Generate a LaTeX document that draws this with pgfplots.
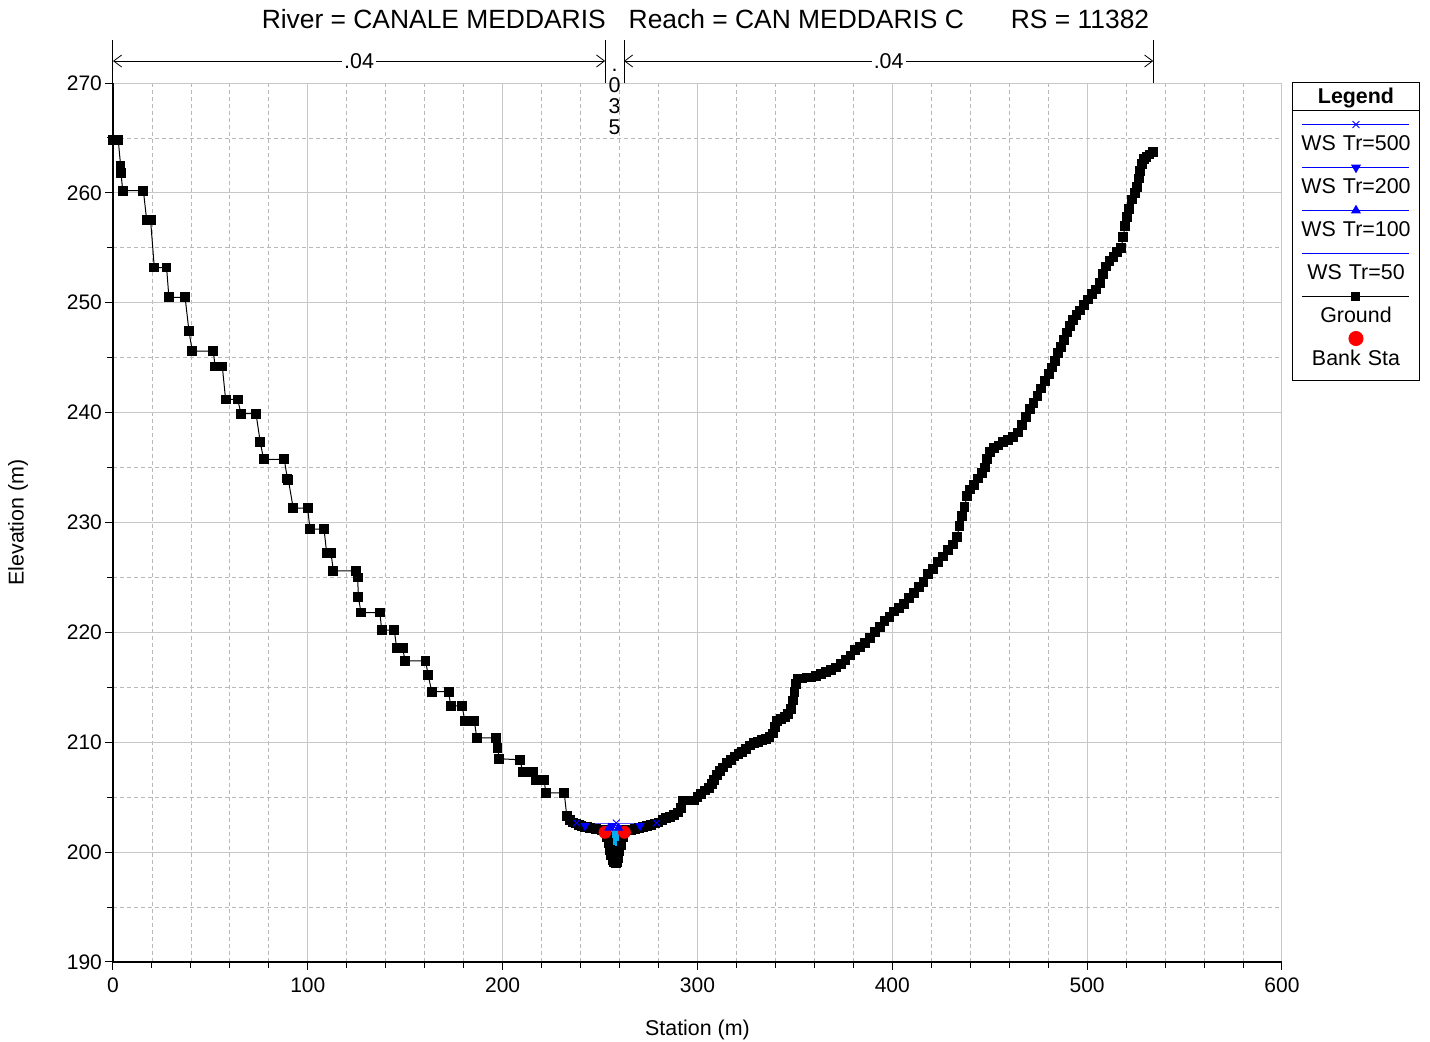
\documentclass[border=0pt]{standalone}
\usepackage{fontspec}
\setmainfont{Liberation Sans}
\usepackage{pgfplots}
\pgfplotsset{compat=1.18}
\usepackage{pgfplotstable}
\usetikzlibrary{arrows.meta}

% ground profile, station (m) / elevation (m)
\pgfplotstableread{
x y
0.2 264.8
2.7 264.8
3.9 262.5
4.1 261.8
5.0 260.2
15.6 260.2
17.3 257.5
19.3 257.5
21.2 253.2
27.5 253.2
28.7 250.5
37.0 250.5
39.0 247.4
40.7 245.6
51.5 245.6
52.4 244.2
56.1 244.2
57.8 241.2
64.0 241.2
65.7 239.9
73.4 239.9
75.6 237.3
77.3 235.75
87.9 235.75
89.5 234.0
90.0 233.9
92.5 231.3
99.9 231.3
101.1 229.4
108.3 229.4
109.7 227.2
111.9 227.2
113.1 225.6
124.7 225.6
125.6 225.0
125.9 223.25
127.3 221.8
137.0 221.8
137.9 220.2
144.4 220.2
145.6 218.55
148.7 218.55
149.9 217.4
160.4 217.4
161.8 216.1
163.6 214.6
172.3 214.6
173.3 213.3
179.1 213.3
180.7 211.9
185.5 211.9
186.7 210.4
196.6 210.4
197.3 209.5
198.3 208.5
208.9 208.4
210.3 207.3
215.4 207.3
217.1 206.6
221.2 206.6
222.2 205.4
231.6 205.4
232.9 203.3
234.5 202.9
236.0 202.7
237.5 202.6
239.0 202.5
240.5 202.4
242.0 202.3
243.5 202.25
245.0 202.2
246.5 202.15
248.0 202.1
249.5 202.05
251.0 202.0
252.5 201.9
253.5 201.4
254.3 200.8
255.0 200.2
255.7 199.7
256.4 199.3
257.2 199.1
258.0 199.0
258.8 199.1
259.4 199.5
260.0 200.1
261.0 200.6
262.0 201.4
262.8 201.9
264.0 202.0
266 202.0
268 202.1
270 202.2
272 202.3
274 202.4
276 202.5
278 202.6
280 202.7
282 202.9
284 203.1
286 203.2
288 203.4
290 203.6
291.5 204.0
292.3 204.7
294 204.7
296 204.7
298 204.7
300 205.0
302 205.3
304 205.6
306 205.8
307.5 206.2
308.5 206.6
310 207.0
311.5 207.4
313 207.7
315 208.1
317 208.4
319 208.7
321 208.9
323 209.1
325 209.4
327 209.7
329 209.9
331 210.0
333 210.2
335 210.3
337 210.5
338.7 210.8
339.8 211.4
341 211.9
343 212.1
345 212.3
346.5 212.6
348 213.0
349 213.8
349.8 214.6
350.5 215.3
351.5 215.8
353.5 215.8
356 215.9
358.5 215.9
361 216.0
363.5 216.2
366 216.4
368.5 216.6
371 216.8
373.5 217.1
376 217.5
378.5 217.9
381 218.4
383.5 218.7
386 219.0
388.5 219.5
391 220.0
393.5 220.5
396 221.0
398.5 221.4
401 221.9
403.5 222.2
406 222.6
408.5 223.1
411 223.6
413.5 224.1
416 224.6
418.5 225.3
421 225.8
423.5 226.4
426 226.9
428.5 227.5
431 228.0
433.2 228.7
434.5 229.7
435.8 230.6
437 231.4
438.3 232.4
440 233.0
442 233.4
444 234.0
446 234.5
447.6 235.0
448.6 235.8
450 236.4
452 236.8
454.5 237.0
457 237.3
459.5 237.5
462 237.8
464.5 238.2
466.5 238.9
468.5 239.6
470.5 240.3
472.5 240.9
474.5 241.5
476.5 242.2
478.5 242.9
480.5 243.5
482 244.1
483.5 244.7
485 245.4
486.5 246.0
488 246.6
489.5 247.3
491 247.9
492.7 248.4
494.5 248.9
496.5 249.3
498.5 249.8
500.5 250.3
502.5 250.8
504.5 251.2
506.6 251.8
508 252.6
509.5 253.3
511.5 253.8
513.5 254.2
515.5 254.6
517.5 255.0
518.5 256.0
519.5 257.0
520.5 257.8
521.5 258.5
523 259.4
524.5 260.0
525.6 260.5
526.5 261.3
527.3 262.0
528 262.6
529 263.1
530.5 263.3
532 263.5
533.8 263.7
}\ground

\pgfplotsset{
  leglinecode/.style={legend image code/.code={%
    \begin{scope}[overlay]
    \draw[mark repeat=2,mark phase=2] plot coordinates {(1.25pt,10.1pt) (28pt,10.1pt) (54.75pt,10.1pt)};
    \end{scope}}},
}

\begin{document}
\begin{tikzpicture}
\useasboundingbox (-56.5pt,-40pt) rectangle (658.5pt,481pt);
\begin{axis}[
  scale only axis,
  width=584.5pt, height=439.5pt,
  xmin=0, xmax=600, ymin=190, ymax=270,
  xtick={0,100,...,600}, ytick={190,200,...,270},
  minor x tick num=4, minor y tick num=1,
  axis x line*=bottom, axis y line*=left,
  tick align=outside,
  major tick length=4pt, minor tick length=3pt,
  tick style={black, line width=0.5pt},
  axis line style={black, line width=0.6pt},
  grid=both,
  major grid style={draw=black!22, line width=0.5pt},
  minor grid style={draw=black!28, line width=0.4pt, dash pattern=on 2pt off 1.5pt},
  clip=false,
  /pgf/number format/assume math mode=true,
  ticklabel style={font=\fontsize{10.5}{12}\selectfont},
  xticklabel style={yshift=-0.2pt},
  yticklabel style={xshift=2pt},
  xlabel={Station (m)}, ylabel={Elevation (m)},
  label style={font=\fontsize{10.7}{12}\selectfont},
  xlabel style={at={(axis description cs:0.5,0)}, anchor=center, yshift=-34pt},
  ylabel style={at={(axis description cs:0,0.5)}, anchor=center, yshift=47.5pt},
  title={River = CANALE MEDDARIS\hspace{11.5pt}Reach = CAN MEDDARIS C\hspace{23.5pt}RS = 11382},
  title style={font=\fontsize{13.2}{15}\selectfont, at={(axis description cs:0.5,1)}, anchor=center, yshift=26pt, xshift=4pt},
  legend cell align=left,
  legend style={at={(1,1)}, anchor=north west, xshift=5pt, yshift=0.5pt,
    draw=black, line width=0.5pt, inner xsep=3.75pt, inner ysep=2.85pt,
    row sep=12pt,
    font=\fontsize{10.7}{12}\selectfont,
    nodes={inner sep=0pt, text width=56pt, align=center, text height=7.5pt, text depth=2pt}},
]
% legend
\addlegendimage{legend image code/.code={\begin{scope}[overlay]\draw[black, line width=0.5pt] (-3.75pt,-5.4pt) -- (59.75pt,-5.4pt);\end{scope}}}
\addlegendentry[text depth=4pt]{\textbf{Legend}}
\addlegendimage{blue, line width=0.5pt, mark=x, mark size=2.4pt, leglinecode}
\addlegendentry{WS Tr=500}
\addlegendimage{blue, line width=0.5pt, mark=triangle*, mark size=2.4pt, mark options={rotate=180}, leglinecode}
\addlegendentry{WS Tr=200}
\addlegendimage{blue, line width=0.5pt, mark=triangle*, mark size=2.4pt, leglinecode}
\addlegendentry{WS Tr=100}
\addlegendimage{blue, line width=0.5pt, leglinecode}
\addlegendentry{WS Tr=50}
\addlegendimage{black, line width=0.5pt, mark=square*, mark size=2pt, leglinecode}
\addlegendentry{Ground}
\addlegendimage{red, mark=*, mark size=3.5pt, legend image code/.code={\begin{scope}[overlay]\draw[only marks] plot coordinates {(28pt,12pt)};\end{scope}}}
\addlegendentry[text depth=4.8pt]{Bank Sta}

% water in the channel
\addplot[forget plot, fill=cyan, draw=none] coordinates {
  (253.5,202.1) (255.0,200.6) (256.5,199.4) (258.5,199.2) (260.0,200.3) (261.5,202.1)} -- cycle;
% ground
\addplot[forget plot, black, line width=0.5pt, mark=square*, mark size=2.2pt] table[x=x, y=y] {\ground};
% bank stations
\addplot[forget plot, only marks, red, mark=*, mark size=3pt] coordinates {(252.5,201.8) (262.5,201.8)};
% water surfaces
\addplot[forget plot, blue, line width=0.5pt] coordinates {(251,202.1) (264,202.1)};
\addplot[forget plot, blue, line width=0.5pt, mark=triangle*, mark size=2.2pt, mark indices={2,3}] coordinates {(249,202.2) (254.5,202.2) (259.5,202.2) (265.5,202.2)};
\addplot[forget plot, blue, line width=0.5pt, mark=triangle*, mark size=2.2pt, mark options={rotate=180}] coordinates {(242.3,202.4) (256.4,202.4) (270.5,202.4)};
\addplot[forget plot, blue, line width=0.5pt, mark=x, mark size=2.4pt] coordinates {(238,202.65) (258.3,202.65) (279,202.65)};

% Manning's n regions
\draw[black, line width=0.5pt] (axis cs:0,270) -- ([yshift=21.5pt]axis cs:0,270);
\draw[black, line width=0.5pt] (axis cs:252.6,270) -- ([yshift=21.5pt]axis cs:252.6,270);
\draw[black, line width=0.5pt] (axis cs:262.3,270) -- ([yshift=21.5pt]axis cs:262.3,270);
\draw[black, line width=0.5pt] (axis cs:533.9,270) -- ([yshift=21.5pt]axis cs:533.9,270);
\draw[black, line width=0.4pt, {Straight Barb[length=4pt,width=6pt]}-{Straight Barb[length=4pt,width=6pt]}]
  ([yshift=11pt]axis cs:0,270) -- ([yshift=11pt]axis cs:252.6,270)
  node[midway, fill=white, inner sep=1pt, font=\fontsize{10.7}{12}\selectfont] {.04};
\draw[black, line width=0.4pt, {Straight Barb[length=4pt,width=6pt]}-{Straight Barb[length=4pt,width=6pt]}]
  ([yshift=11pt]axis cs:262.3,270) -- ([yshift=11pt]axis cs:533.9,270)
  node[midway, fill=white, inner sep=1pt, font=\fontsize{10.7}{12}\selectfont] {.04};
\begin{scope}[font=\fontsize{10.7}{12}\selectfont]
\node[anchor=base, inner sep=0pt] at ([yshift=6pt]axis cs:257.45,270) {.};
\node[anchor=base, inner sep=0pt] at ([yshift=-4.5pt]axis cs:257.45,270) {0};
\node[anchor=base, inner sep=0pt] at ([yshift=-15pt]axis cs:257.45,270) {3};
\node[anchor=base, inner sep=0pt] at ([yshift=-25.5pt]axis cs:257.45,270) {5};
\end{scope}
\end{axis}
\end{tikzpicture}
\end{document}
